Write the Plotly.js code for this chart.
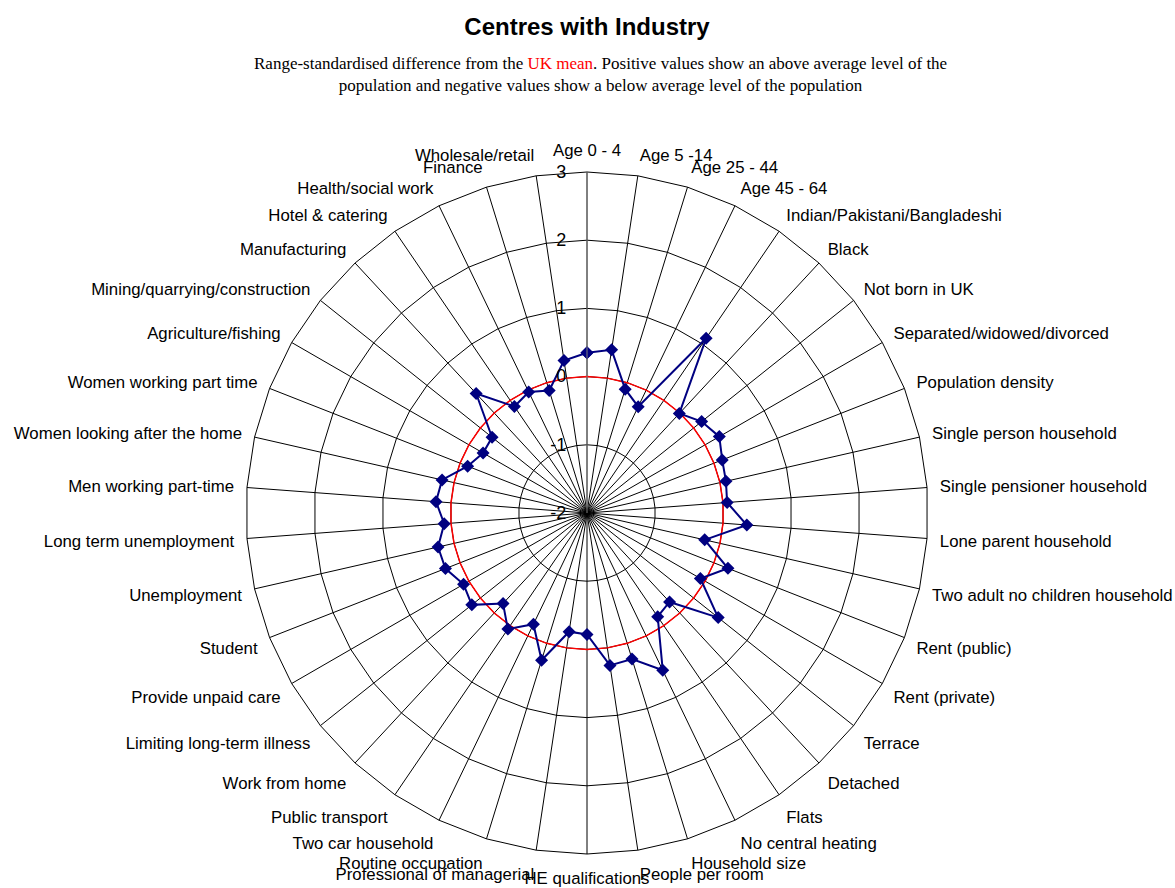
<!DOCTYPE html>
<html>
<head>
<meta charset="utf-8">
<script src="https://cdn.plot.ly/plotly-3.0.1.min.js"></script>
<style>html,body{margin:0;padding:0;background:#fff;}#chart{width:1175px;height:888px;}</style>
</head>
<body>
<div id="chart"></div>
<script>
const categories = [
  "Age 0 - 4", "Age 5 -14", "Age 25 - 44", "Age 45 - 64",
  "Indian/Pakistani/Bangladeshi", "Black", "Not born in UK",
  "Separated/widowed/divorced", "Population density", "Single person household",
  "Single pensioner household", "Lone parent household", "Two adult no children household",
  "Rent (public)", "Rent (private)", "Terrace", "Detached", "Flats",
  "No central heating", "Household size", "People per room", "HE qualifications",
  "Professional of managerial", "Routine occupation", "Two car household",
  "Public transport", "Work from home", "Limiting long-term illness",
  "Provide unpaid care", "Student", "Unemployment", "Long term unemployment",
  "Men working part-time", "Women looking after the home", "Women working part time",
  "Agriculture/fishing", "Mining/quarrying/construction", "Manufacturing",
  "Hotel & catering", "Health/social work", "Finance", "Wholesale/retail"
];
const centresWithIndustry = [
  0.35, 0.42, -0.10, -0.27,
  1.10, -0.01, 0.15,
  0.24, 0.13, 0.09,
  0.06, 0.35, -0.23,
  0.22, -0.08, 0.46, -0.22, -0.16,
  0.56, 0.24, 0.26, -0.22,
  -0.24, 0.26, -0.19,
  0.06, -0.19, 0.16,
  0.09, 0.23, 0.24, 0.10,
  0.22, 0.18, -0.12,
  -0.24, -0.22, 0.39,
  -0.11, -0.03, -0.12, 0.26
];
const ukMean = categories.map(() => 0);
const radialTicks = [-2, -1, 0, 1, 2, 3];

const close = a => a.concat([a[0]]);

const traces = [
  {
    type: 'scatterpolar', mode: 'lines',
    r: close(ukMean), theta: close(categories),
    line: {color: '#ff0000', width: 1.5},
    hoverinfo: 'skip', showlegend: false
  },
  {
    type: 'scatterpolar', mode: 'lines+markers',
    r: close(centresWithIndustry), theta: close(categories),
    line: {color: '#000080', width: 2},
    marker: {symbol: 'diamond', size: 10, color: '#000080'},
    showlegend: false
  }
];

const layout = {
  width: 1175, height: 888,
  margin: {l: 0, r: 0, t: 0, b: 0},
  paper_bgcolor: '#ffffff',
  font: {family: 'Liberation Sans, Arial, sans-serif', color: '#000000'},
  title: {
    text: '<b>Centres with Industry</b>',
    font: {family: 'Liberation Sans, Arial, sans-serif', size: 24, color: '#000000'},
    x: 0.4996, xanchor: 'center', xref: 'paper',
    y: 1 - 27/888, yanchor: 'middle', yref: 'container'
  },
  annotations: [{
    text: 'Range-standardised difference from the <span style="color:#ff0000">UK mean</span>. Positive values show an above average level of the<br>population and negative values show a below average level of the population',
    xref: 'paper', yref: 'paper', x: 600/1175, y: 1 - 75/888,
    xanchor: 'center', yanchor: 'middle', showarrow: false,
    font: {family: 'Liberation Serif, Times New Roman, serif', size: 17, color: '#000000'}
  }],
  showlegend: false,
  polar: {
    domain: {x: [246/1175, 928/1175], y: [34/888, 716/888]},
    bgcolor: '#ffffff',
    gridshape: 'linear',
    angularaxis: {
      type: 'category',
      categoryarray: categories,
      rotation: 90,
      direction: 'clockwise',
      showline: true, linecolor: '#000000', linewidth: 1,
      showgrid: true, gridcolor: '#000000', gridwidth: 1,
      ticks: 'outside', ticklen: 9, tickcolor: 'rgba(0,0,0,0)',
      tickfont: {family: 'Liberation Sans, Arial, sans-serif', size: 16.8, color: '#000000'}
    },
    radialaxis: {
      range: [-2, 3],
      tickvals: radialTicks,
      ticktext: radialTicks.map(String),
      angle: 90,
      tickangle: 90,
      side: 'counterclockwise',
      showline: true, linecolor: '#808080', linewidth: 1,
      showgrid: true, gridcolor: '#000000', gridwidth: 1,
      ticks: 'outside', ticklen: 14, tickcolor: 'rgba(0,0,0,0)',
      tickfont: {family: 'Liberation Sans, Arial, sans-serif', size: 18, color: '#000000'}
    }
  }
};

Plotly.newPlot('chart', traces, layout, {staticPlot: true}).then(gd => {
  // gridshape 'linear' wrongly flags every marker as outside the subplot; show them again
  gd.querySelectorAll('.scatterlayer .point').forEach(p => { p.style.display = 'inline'; });
});
</script>
</body>
</html>
